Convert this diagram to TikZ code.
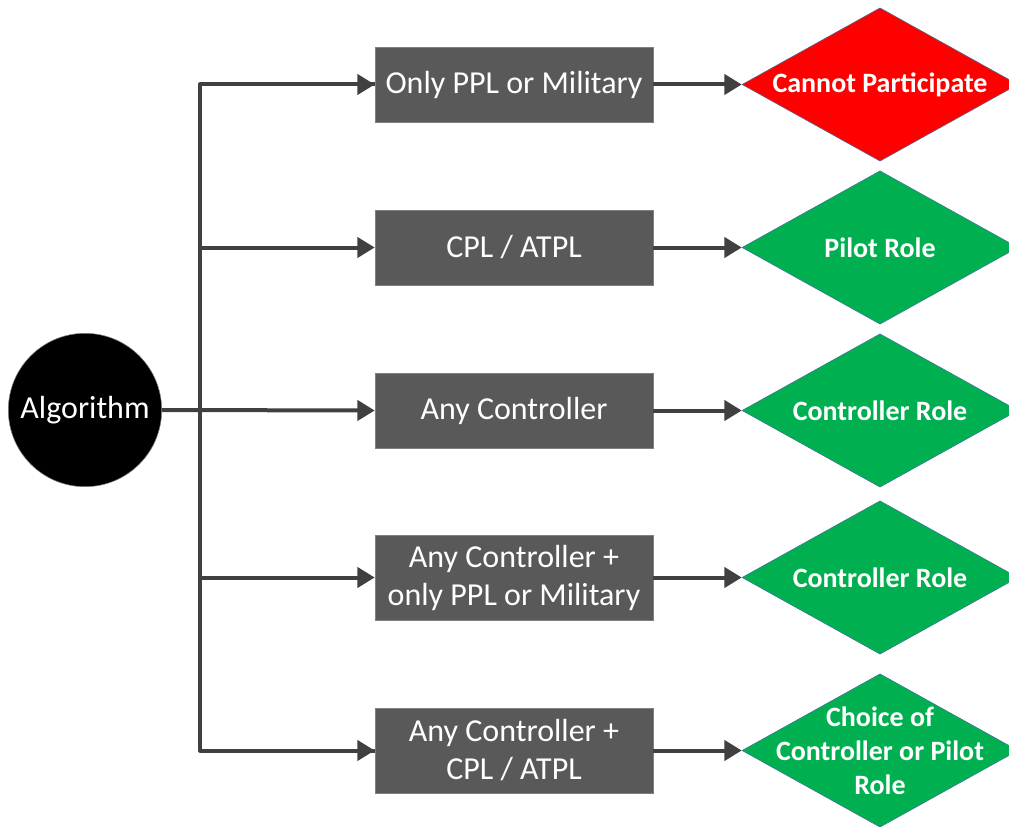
\documentclass[tikz,border=0pt]{standalone}
\usepackage{fontspec}
\setmainfont{Carlito}
\usetikzlibrary{arrows.meta,shapes.geometric}
\definecolor{boxgray}{HTML}{595959}
\definecolor{linegray}{HTML}{404040}
\definecolor{rolegreen}{HTML}{00B050}
\definecolor{rolered}{HTML}{FF0000}
\definecolor{edgeblue}{HTML}{41719C}
\tikzset{
    qualbox/.style={rectangle,fill=boxgray,draw=gray,thin,minimum width=208.5pt,
        minimum height=56pt,text=white,align=center,inner sep=0pt,
        font=\fontsize{24}{28.5}\selectfont},
    rolebox/.style={diamond,draw=edgeblue,thin,minimum width=207pt,minimum height=115pt,
        inner sep=0pt},
    roletext/.style={text=white,align=center,font=\fontsize{21}{25.5}\selectfont\bfseries},
    link/.style={draw=linegray,line width=3pt,-{Triangle[length=13pt,width=15pt]}}
}
\begin{document}
\begin{tikzpicture}[x=0.75pt,y=-0.75pt]
\useasboundingbox (0,0) rectangle (1009,827);

\node (algo) at (85,410) [circle,fill=black,draw=gray,minimum size=115pt,inner sep=0pt,
    text=white,font=\fontsize{24}{28}\selectfont] {Algorithm};

\node (q1) at (514,84.5) [qualbox] {Only PPL or Military};
\node (q2) at (514,247.5) [qualbox] {CPL / ATPL};
\node (q3) at (514,410.5) [qualbox] {Any Controller};
\node (q4) at (514,577.5) [qualbox,minimum height=64pt] {Any Controller +\\only PPL or Military};
\node (q5) at (514,750.5) [qualbox,minimum height=64pt] {Any Controller +\\CPL / ATPL};

\node (r1) at (880,84.5) [rolebox,fill=rolered] {};
\node (r2) at (880,247.5) [rolebox,fill=rolegreen] {};
\node (r3) at (880,410.5) [rolebox,fill=rolegreen] {};
\node (r4) at (880,577.5) [rolebox,fill=rolegreen] {};
\node (r5) at (880,750.5) [rolebox,fill=rolegreen] {};

\node (t1) at (r1) [roletext] {Cannot Participate};
\node (t2) at (r2) [roletext] {Pilot Role};
\node (t3) at (r3) [roletext] {Controller Role};
\node (t4) at (r4) [roletext] {Controller Role};
\node (t5) at (r5) [roletext] {Choice of\\Controller or Pilot\\Role};

% trunk
\coordinate (top) at (200,84.5);
\coordinate (bot) at (200,750.5);
\draw[draw=linegray,line width=3pt,line join=round] (q1.west) -- (top) -- (bot) -- (q5.west);
\path[link] (top) -- (q1.west);
\path[link] (bot) -- (q5.west);
\path[link] (q2.west -| top) -- (q2.west);
\path[link] (q4.west -| top) -- (q4.west);
\path[link] (algo.east) -- (q3.west);

\foreach \i in {1,...,5}
{
    \path[link] (q\i.east) -- (r\i.west);
}
\end{tikzpicture}
\end{document}
